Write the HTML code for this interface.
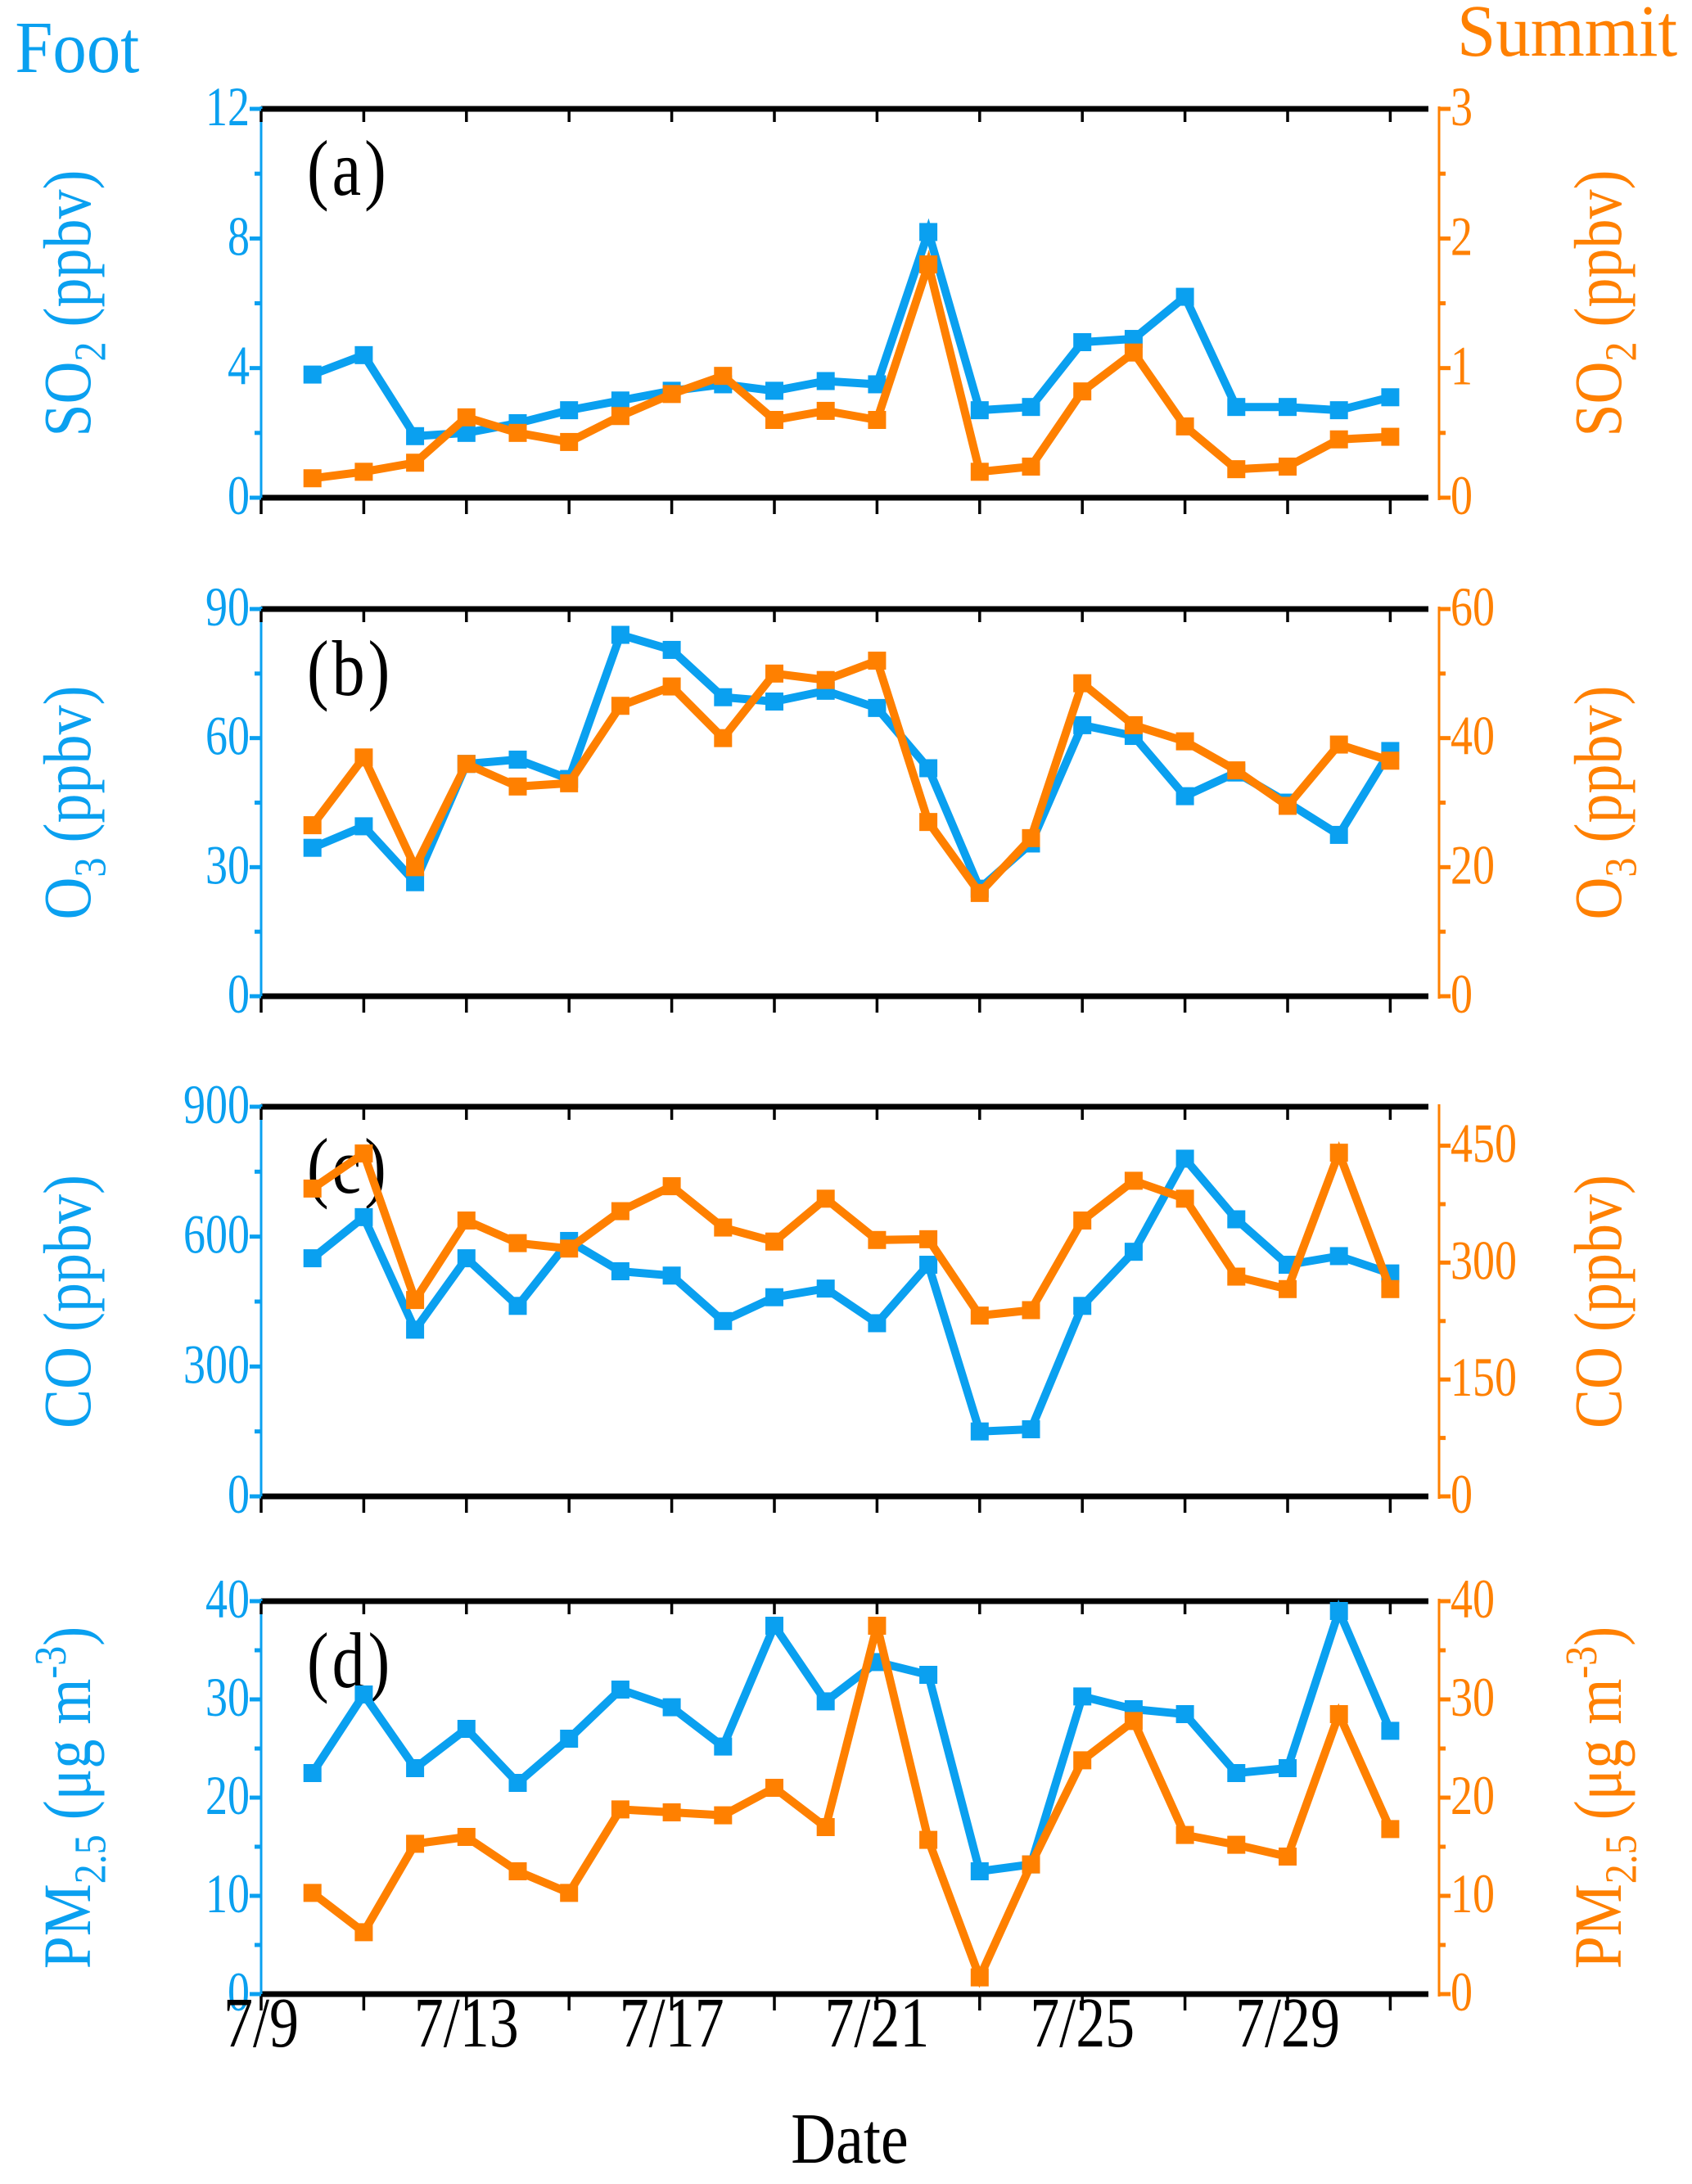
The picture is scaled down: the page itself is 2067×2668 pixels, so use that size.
<!DOCTYPE html>
<html><head><meta charset="utf-8"><style>
html,body{margin:0;padding:0;background:#fff}
svg{display:block}
text{font-family:"Liberation Serif",serif}
</style></head><body>
<svg id="chart" width="2067" height="2668" viewBox="0 0 2067 2668" xmlns="http://www.w3.org/2000/svg">
<text x="16" y="88" font-size="72" fill="#0aa0f0" transform="translate(0,88) scale(1.15,1.25) translate(0,-88)">Foot</text>
<text x="1780" y="68" font-size="72" fill="#ff8000" transform="translate(1780,68) scale(1.18,1.25) translate(-1780,-68)">Summit</text>
</svg>
<script>
const days = [10,11,12,13,14,15,16,17,18,19,20,21,22,23,24,25,26,27,28,29,30,31];
const xTickLabels = ["7/9","7/13","7/17","7/21","7/25","7/29"];
const so2Foot = [3.8,4.4,1.9,2.0,2.3,2.7,3.0,3.3,3.5,3.3,3.6,3.5,8.2,2.7,2.8,4.8,4.9,6.2,2.8,2.8,2.7,3.1];
const so2Summit = [0.15,0.2,0.27,0.62,0.5,0.43,0.63,0.8,0.94,0.6,0.67,0.6,1.8,0.2,0.24,0.82,1.12,0.55,0.22,0.24,0.45,0.47];
const o3Foot = [34.5,39.5,26.5,54,55,50.5,84,80.5,69.5,68.5,71,67,53,25,35.5,63,60.5,46.5,52,45,37.5,57];
const o3Summit = [26.5,37,20,36,32.5,33,45,48,40,50,49,52,27,16,24.5,48.5,42,39.5,35,29.5,39,36.5];
const coFoot = [550,645,385,550,440,590,520,510,405,460,480,400,535,150,155,440,565,780,640,535,555,515];
const coSummit = [395,440,252,354,325,318,366,398,345,327,382,329,330,232,239,354,405,382,282,266,441,266];
const pmFoot = [22.5,30.5,23,27,21.5,26,31,29.2,25.2,37.5,29.8,33.8,32.5,12.5,13.2,30.3,29,28.5,22.5,23,39,26.8];
const pmSummit = [10.3,6.3,15.3,16,12.5,10.3,18.8,18.5,18.2,21,17,37.5,15.7,1.7,13.2,23.8,27.8,16.2,15.2,14,28.5,16.8];
const leftTicksA=[0,4,8,12], rightTicksA=[0,1,2,3];
const leftTicksB=[0,30,60,90], rightTicksB=[0,20,40,60];
const leftTicksC=[0,300,600,900], rightTicksC=[0,150,300,450];
const leftTicksD=[0,10,20,30,40], rightTicksD=[0,10,20,30,40];

const BLUE="#0aa0f0", ORANGE="#ff8000";
const svg=document.getElementById('chart');
const NS="http://www.w3.org/2000/svg";
const X0=319, X1=1758, DAYPX=62.7;
function xs(d){return X0+(d-9)*DAYPX;}
function mk(tag,attrs,parent){const e=document.createElementNS(NS,tag);for(const k in attrs)e.setAttribute(k,attrs[k]);(parent||svg).appendChild(e);return e;}
function vstretch(x,y,s){return `translate(${x},${y}) scale(1,${s}) translate(${-x},${-y})`;}

const panels=[
 {id:'a',top:133,bot:608,lmax:12,rmax:3,lt:leftTicksA,rt:rightTicksA,lminor:2,rminor:0.5,f:so2Foot,s:so2Summit,title:'SO',sub:'2',unit:' (ppbv)'},
 {id:'b',top:744,bot:1217,lmax:90,rmax:60,lt:leftTicksB,rt:rightTicksB,lminor:15,rminor:10,f:o3Foot,s:o3Summit,title:'O',sub:'3',unit:' (ppbv)'},
 {id:'c',top:1352,bot:1828,lmax:900,rmax:500,lt:leftTicksC,rt:rightTicksC,lminor:150,rminor:75,f:coFoot,s:coSummit,title:'CO',sub:'',unit:' (ppbv)'},
 {id:'d',top:1956,bot:2436,lmax:40,rmax:40,lt:leftTicksD,rt:rightTicksD,lminor:5,rminor:5,f:pmFoot,s:pmSummit,title:'PM',sub:'2.5',unit:' (μg m',sup:'-3'}
];

panels.forEach(p=>{
 const g=mk('g',{});
 
 
 const yl=v=>p.bot-(v/p.lmax)*(p.bot-p.top);
 const yr=v=>p.bot-(v/p.rmax)*(p.bot-p.top);
 const top=mk('line',{x1:X0,y1:p.top,x2:1745,y2:p.top,stroke:'#000','stroke-width':7},g);
  
 const bot=mk('line',{x1:X0,y1:p.bot,x2:1745,y2:p.bot,stroke:'#000','stroke-width':7},g);
  
 const la=mk('line',{x1:X0,y1:p.top-3,x2:X0,y2:p.bot+3,stroke:BLUE,'stroke-width':3},g);
  
 const ra=mk('line',{x1:X1,y1:p.top-3,x2:X1,y2:p.bot+3,stroke:ORANGE,'stroke-width':3},g);
  
 for(let d=9;d<=31;d+=2){
  const x=xs(d);
  mk('line',{x1:x,y1:p.top,x2:x,y2:p.top+16,stroke:'#000','stroke-width':3.5},g);
  mk('line',{x1:x,y1:p.bot,x2:x,y2:p.bot+20,stroke:'#000','stroke-width':3.5},g);
 }
 for(let v=0;v<=p.lmax+1e-9;v+=p.lminor){
  const major=p.lt.some(t=>Math.abs(t-v)<1e-9);
  mk('line',{x1:X0,y1:yl(v),x2:X0-(major?14:8),y2:yl(v),stroke:BLUE,'stroke-width':5},g);
 }
 p.lt.forEach(t=>{
  const tx=mk('text',{x:X0-14,y:yl(t)+20,'font-size':54,fill:BLUE,'text-anchor':'end',transform:vstretch(X0-14,yl(t)+20,1.25)},g);
  tx.textContent=t;
   
 });
 for(let v=0;v<=p.rmax+1e-9;v+=p.rminor){
  const major=p.rt.some(t=>Math.abs(t-v)<1e-9);
  mk('line',{x1:X1,y1:yr(v),x2:X1+(major?14:8),y2:yr(v),stroke:ORANGE,'stroke-width':5},g);
 }
 p.rt.forEach(t=>{
  const tx=mk('text',{x:X1+14,y:yr(t)+20,'font-size':54,fill:ORANGE,transform:vstretch(X1+14,yr(t)+20,1.25)},g);
  tx.textContent=t;
   
 });
 const mid=(p.top+p.bot)/2;
 [[110,BLUE,'left-y-axis-title'],[1980,ORANGE,'right-y-axis-title']].forEach(([x,c,n])=>{
  const t=mk('text',{x:0,y:0,'font-size':72,fill:c,'text-anchor':'middle',transform:`translate(${x},${mid}) rotate(-90) scale(1,1.15)`},g);
   
  let h=p.title;
  if(p.sub) h+=`<tspan font-size="48" dy="16">${p.sub}</tspan><tspan dy="-16">${p.unit}</tspan>`; else h+=p.unit;
  if(p.sup) h+=`<tspan font-size="48" dy="-26">${p.sup}</tspan><tspan dy="26">)</tspan>`;
  t.innerHTML=h;
 });
 const pl=mk('text',{x:375,y:p.top+105,'font-size':80,fill:'#000','letter-spacing':4,transform:vstretch(375,p.top+105,1.2)},g);
 pl.textContent='('+p.id+')';
  
 [[p.f,yl,BLUE,'foot'],[p.s,yr,ORANGE,'summit']].forEach(([arr,ys,c,n])=>{
  const pts=arr.map((v,i)=>xs(days[i]).toFixed(1)+','+ys(v).toFixed(1)).join(' ');
  const line=mk('polyline',{points:pts,fill:'none',stroke:c,'stroke-width':10,'stroke-linejoin':'miter'},g);
   
  arr.forEach((v,i)=>{
   const r=mk('rect',{x:xs(days[i])-11,y:ys(v)-11,width:22,height:22,fill:c},g);
    
  });
 });
});
xTickLabels.forEach((l,i)=>{
 const x=xs(9+4*i);
 const t=mk('text',{x:x,y:2500,'font-size':72,fill:'#000','text-anchor':'middle',transform:vstretch(x,2500,1.2)});
 t.textContent=l;
  
});
const xt=mk('text',{x:1038,y:2642,'font-size':76,fill:'#000','text-anchor':'middle',transform:vstretch(1038,2642,1.15)});
xt.textContent='Date';
 
</script>
</body></html>
